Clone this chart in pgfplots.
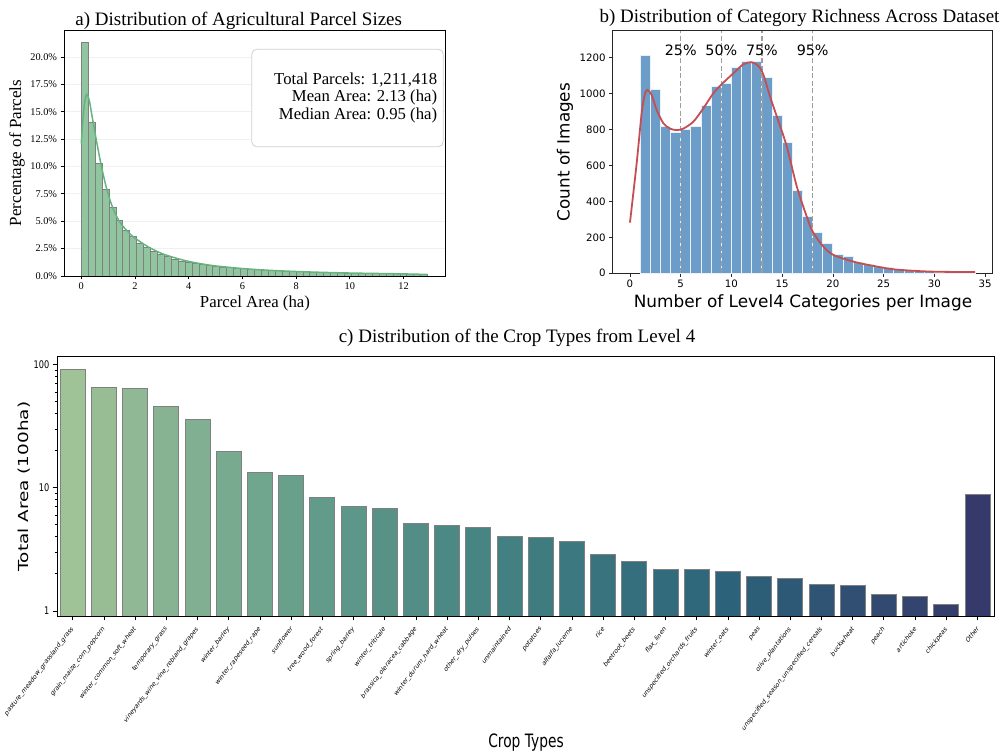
\documentclass[border=0pt]{standalone}
\usepackage{pgfplots}
\pgfplotsset{compat=1.18}
\usepackage{fontspec}
\usepackage{graphicx}
\setmainfont{Liberation Serif}
\newfontfamily\dv{DejaVu Sans}
\newcommand\fs[2]{\fontsize{#1bp}{#2bp}\selectfont}
\definecolor{agfill}{RGB}{145,197,160}
\definecolor{agline}{RGB}{102,179,128}
\definecolor{bfill}{RGB}{108,157,200}
\definecolor{bline}{RGB}{196,78,82}
\definecolor{c0}{RGB}{160,194,151}
\definecolor{c1}{RGB}{152,189,149}
\definecolor{c2}{RGB}{144,184,148}
\definecolor{c3}{RGB}{136,179,146}
\definecolor{c4}{RGB}{128,175,145}
\definecolor{c5}{RGB}{120,170,143}
\definecolor{c6}{RGB}{112,165,142}
\definecolor{c7}{RGB}{104,160,140}
\definecolor{c8}{RGB}{99,155,138}
\definecolor{c9}{RGB}{93,151,137}
\definecolor{c10}{RGB}{88,146,135}
\definecolor{c11}{RGB}{82,142,134}
\definecolor{c12}{RGB}{77,137,132}
\definecolor{c13}{RGB}{71,133,131}
\definecolor{c14}{RGB}{66,128,129}
\definecolor{c15}{RGB}{63,124,128}
\definecolor{c16}{RGB}{60,120,127}
\definecolor{c17}{RGB}{57,116,126}
\definecolor{c18}{RGB}{53,111,125}
\definecolor{c19}{RGB}{50,107,124}
\definecolor{c20}{RGB}{47,103,123}
\definecolor{c21}{RGB}{44,99,122}
\definecolor{c22}{RGB}{45,94,120}
\definecolor{c23}{RGB}{46,89,118}
\definecolor{c24}{RGB}{47,84,116}
\definecolor{c25}{RGB}{49,79,114}
\definecolor{c26}{RGB}{50,74,112}
\definecolor{c27}{RGB}{51,68,110}
\definecolor{c28}{RGB}{52,63,108}
\definecolor{c29}{RGB}{53,58,106}
\newcommand\cl[1]{\scalebox{0.77}[1]{\rotatebox{45}{\dv\fs{7.15}{8}#1}}}
\newcommand\cy[1]{\scalebox{0.78}[1]{\dv\fs{10.5}{12}#1}}
\newcommand\cbar[3]{\addplot[ybar,bar width=0.8,bar shift=0pt,fill=#1,draw=black!50,line width=0.9bp] coordinates {(#2,#3)};}
\pgfplotsset{/pgf/number format/assume math mode=true, /pgf/number format/1000 sep={}}
\begin{document}
\begin{tikzpicture}[x=1bp,y=1bp]
\path[use as bounding box] (0,0) rectangle (1004,754);
% ---------------- panel a
\begin{axis}[at={(64bp,478bp)}, anchor=south west, scale only axis, width=381bp, height=246bp,
  xmin=-0.645, xmax=13.545, ymin=0, ymax=22.47,
  xtick={0,2,...,12}, ytick={0,2.5,5,7.5,10,12.5,15,17.5,20},
  yticklabel={\pgfmathprintnumber[fixed,fixed zerofill,precision=1]{\tick}\%},
  tick align=outside, xtick pos=bottom, ytick pos=left, major tick length=3.5bp,
  ymajorgrids, grid style={draw=black!6, line width=0.8bp},
  tick label style={font=\fs{10.3}{12}}, axis line style={line width=0.9bp}, tick style={black, line width=0.8bp}]
\addplot[ybar, bar width=0.258, bar shift=0pt, fill=agfill, draw=black!50, line width=0.9bp] coordinates {
(0.129,21.3) (0.387,14.0) (0.645,10.3) (0.903,7.93) (1.161,6.23) (1.419,5.08) (1.677,4.19) (1.935,3.65) (2.193,3.0) (2.451,2.58) (2.709,2.28) (2.967,2.0) (3.225,1.76) (3.483,1.55) (3.741,1.37) (3.999,1.25) (4.257,1.12) (4.515,1.02) (4.773,0.94) (5.031,0.87) (5.289,0.81) (5.547,0.75) (5.805,0.70) (6.063,0.65) (6.321,0.61) (6.579,0.57) (6.837,0.53) (7.095,0.50) (7.353,0.47) (7.611,0.44) (7.869,0.41) (8.127,0.39) (8.385,0.37) (8.643,0.35) (8.901,0.33) (9.159,0.31) (9.417,0.30) (9.675,0.28) (9.933,0.27) (10.191,0.26) (10.449,0.25) (10.707,0.24) (10.965,0.23) (11.223,0.22) (11.481,0.21) (11.739,0.20) (11.997,0.19) (12.255,0.18) (12.513,0.17) (12.771,0.16)};
\addplot[smooth, line width=1.5bp, color=agline] coordinates {
(0,12.1) (0.05,14.0) (0.1,15.4) (0.15,16.2) (0.21,16.6) (0.3,16.0) (0.4,14.6) (0.56,12.4) (0.75,10.0) (0.93,8.1) (1.1,6.7) (1.3,5.5) (1.5,4.7) (1.75,4.0) (2.0,3.45) (2.5,2.65) (3.0,2.05) (3.5,1.65) (4.0,1.33) (4.5,1.1) (5,0.92) (6,0.68) (7,0.52) (8,0.41) (9,0.33) (10,0.27) (11,0.23) (12,0.19) (12.9,0.14)};
\draw[draw=black!18, fill=white, rounded corners=5bp, line width=0.8bp] (rel axis cs:0.4927,0.5256) rectangle (rel axis cs:0.9955,0.9215);
\node[anchor=base east, inner sep=0pt, font=\fs{16.7}{18}] at (rel axis cs:0.9798,0.7793) {Total Parcels: 1,211,418};
\node[anchor=base east, inner sep=0pt, font=\fs{16.7}{18}] at (rel axis cs:0.9798,0.7085) {Mean Area: 2.13 (ha)};
\node[anchor=base east, inner sep=0pt, font=\fs{16.7}{18}] at (rel axis cs:0.9798,0.6370) {Median Area: 0.95 (ha)};
\end{axis}
\node[anchor=base, inner sep=0pt, font=\fs{19}{22}] at (238.7,728.5) {a) Distribution of Agricultural Parcel Sizes};
\node[rotate=90, inner sep=0pt, font=\fs{17}{20}] at (17,601) {Percentage of Parcels};
\node[anchor=base, inner sep=0pt, font=\fs{16.8}{20}] at (255,446.2) {Parcel Area (ha)};
% ---------------- panel b
\begin{axis}[at={(612.7bp,480.7bp)}, anchor=south west, scale only axis, width=379.6bp, height=242.6bp,
  xmin=-1.7, xmax=35.7, ymin=0, ymax=1350,
  xtick={0,5,...,35}, ytick={0,200,...,1200},
  tick align=outside, xtick pos=bottom, ytick pos=left, major tick length=3.5bp,
  tick label style={font=\dv\fs{10.2}{12}}, axis line style={line width=0.9bp, draw=black!85}, tick style={black!85, line width=0.8bp}]
\addplot[ybar, bar width=1, bar shift=0pt, fill=bfill, draw=white!85!bfill, line width=1bp] coordinates {
(1.5,1213) (2.5,1022) (3.5,818) (4.5,781) (5.5,800) (6.5,816) (7.5,931) (8.5,1039) (9.5,1057) (10.5,1143) (11.5,1176) (12.5,1180) (13.5,1089) (14.5,877) (15.5,729) (16.5,460) (17.5,315) (18.5,228) (19.5,163) (20.5,106) (21.5,93) (22.5,61) (23.5,50) (24.5,37) (25.5,31) (26.5,22) (27.5,15) (28.5,12) (29.5,8) (30.5,6) (31.5,4) (32.5,3) (33.5,2)};
\addplot[dashed, dash pattern=on 5bp off 2.5bp, draw=black!38, line width=1.2bp] coordinates {(5,0) (5,1350)};
\addplot[dashed, dash pattern=on 5bp off 2.5bp, draw=black!38, line width=1.2bp] coordinates {(9,0) (9,1350)};
\addplot[dashed, dash pattern=on 5bp off 2.5bp, draw=black!38, line width=1.2bp] coordinates {(13,0) (13,1350)};
\addplot[dashed, dash pattern=on 5bp off 2.5bp, draw=black!38, line width=1.2bp] coordinates {(18,0) (18,1350)};
\addplot[smooth, line width=1.8bp, color=bline] coordinates {
(0,282) (0.66,612) (1.15,890) (1.45,992) (1.71,1020) (2.14,992) (2.63,909) (3.29,835) (3.95,805) (4.6,797) (5.26,805) (6.25,844) (7.23,918) (8.22,1002) (9.2,1061) (10.19,1113) (11.17,1163) (12.0,1174) (12.65,1154) (13.15,1104) (13.8,983) (14.47,872) (15.45,705) (16.44,482) (17.42,315) (18.0,232) (19.06,148) (20.05,102) (22,65) (24,41) (26,22) (28.9,11) (31,8) (34,7)};
\node[font=\dv\fs{14.3}{16}, inner sep=0pt] at (axis cs:5,1243) {25\%};
\node[font=\dv\fs{14.3}{16}, inner sep=0pt] at (axis cs:9,1243) {50\%};
\node[font=\dv\fs{14.3}{16}, inner sep=0pt] at (axis cs:13,1243) {75\%};
\node[font=\dv\fs{14.3}{16}, inner sep=0pt] at (axis cs:18,1243) {95\%};
\end{axis}
\node[anchor=base, inner sep=0pt, font=\fs{19}{22}] at (799.5,731.3) {b) Distribution of Category Richness Across Dataset};
\node[rotate=90, inner sep=0pt, font=\dv\fs{16.8}{20}] at (565,602) {Count of Images};
\node[anchor=base, inner sep=0pt, font=\dv\fs{16.9}{20}] at (803,446.7) {Number of Level4 Categories per Image};
% ---------------- panel c
\begin{axis}[at={(57bp,138bp)}, anchor=south west, scale only axis, width=937bp, height=259.3bp,
  ymode=log, log origin=infty, xmin=-0.506, xmax=29.53, ymin=0.91, ymax=116,
  xtick={0,...,29}, ytick={1,10,100},
  yticklabels={\cy{1},\cy{10},\cy{100}},
  xticklabels={\cl{pasture\_meadow\_grassland\_grass},\cl{grain\_maize\_corn\_popcorn},\cl{winter\_common\_soft\_wheat},\cl{temporary\_grass},\cl{vineyards\_wine\_vine\_rebland\_grapes},\cl{winter\_barley},\cl{winter\_rapeseed\_rape},\cl{sunflower},\cl{tree\_wood\_forest},\cl{spring\_barley},\cl{winter\_triticale},\cl{brassica\_oleracea\_cabbage},\cl{winter\_durum\_hard\_wheat},\cl{other\_dry\_pulses},\cl{unmaintained},\cl{potatoes},\cl{alfalfa\_lucerne},\cl{rice},\cl{beetroot\_beets},\cl{flax\_linen},\cl{unspecified\_orchards\_fruits},\cl{winter\_oats},\cl{peas},\cl{olive\_plantations},\cl{unspecified\_season\_unspecified\_cereals},\cl{buckwheat},\cl{peach},\cl{artichoke},\cl{chickpeas},\cl{Other}},
  xticklabel style={anchor=north east, inner sep=0pt, xshift=2bp, yshift=-5bp},
  yticklabel style={anchor=east, inner sep=0pt, xshift=-3bp},
  tick align=outside, xtick pos=bottom, ytick pos=left, major tick length=4.5bp, minor tick length=2.5bp,
  axis line style={line width=0.9bp}, tick style={black, line width=0.8bp}]
\cbar{c0}{0}{91}
\cbar{c1}{1}{64.7}
\cbar{c2}{2}{64}
\cbar{c3}{3}{45.7}
\cbar{c4}{4}{35.9}
\cbar{c5}{5}{19.6}
\cbar{c6}{6}{13.3}
\cbar{c7}{7}{12.6}
\cbar{c8}{8}{8.3}
\cbar{c9}{9}{7.05}
\cbar{c10}{10}{6.86}
\cbar{c11}{11}{5.09}
\cbar{c12}{12}{4.94}
\cbar{c13}{13}{4.73}
\cbar{c14}{14}{4.03}
\cbar{c15}{15}{3.92}
\cbar{c16}{16}{3.64}
\cbar{c17}{17}{2.86}
\cbar{c18}{18}{2.53}
\cbar{c19}{19}{2.18}
\cbar{c20}{20}{2.16}
\cbar{c21}{21}{2.08}
\cbar{c22}{22}{1.92}
\cbar{c23}{23}{1.82}
\cbar{c24}{24}{1.63}
\cbar{c25}{25}{1.60}
\cbar{c26}{26}{1.37}
\cbar{c27}{27}{1.31}
\cbar{c28}{28}{1.13}
\cbar{c29}{29}{8.81}
\end{axis}
\node[anchor=base, inner sep=0pt, font=\fs{19}{22}] at (517,411) {c) Distribution of the Crop Types from Level 4};
\node[inner sep=0pt] at (24,267.5) {\scalebox{0.75}[1]{\rotatebox{90}{\dv\fs{18.4}{20}Total Area (100ha)}}};
\node[anchor=base, inner sep=0pt] at (526,6.6) {\scalebox{0.75}[1]{\dv\fs{18.4}{20}Crop Types}};
\end{tikzpicture}
\end{document}
